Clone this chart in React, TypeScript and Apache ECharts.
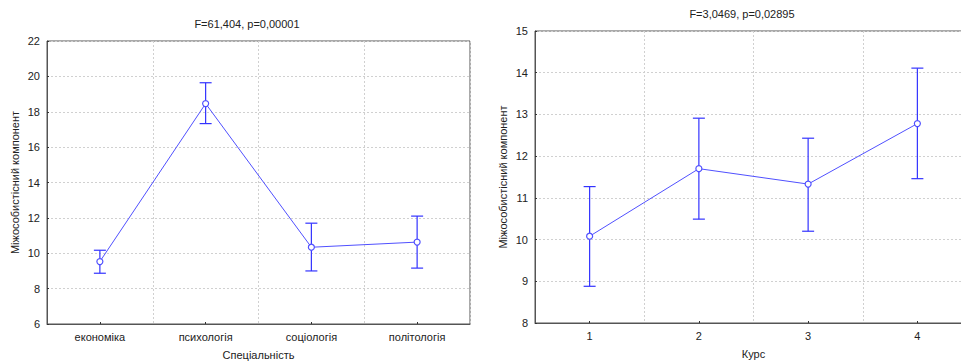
import React, { useEffect, useRef } from "react";
import * as echarts from "echarts";

const specialties = ["економіка", "психологія", "соціологія", "політологія"];
const specMeans = [9.53, 18.46, 10.34, 10.63];
const specLow = [8.87, 17.33, 9.0, 9.16];
const specHigh = [10.17, 19.64, 11.7, 12.1];

const courses = ["1", "2", "3", "4"];
const courseMeans = [10.08, 11.7, 11.33, 12.78];
const courseLow = [8.88, 10.49, 10.2, 11.46];
const courseHigh = [11.27, 12.91, 12.43, 14.11];

const leftTitle = "F=61,404, p=0,00001";
const rightTitle = "F=3,0469, p=0,02895";
const yName = "Міжособистісний компонент";
const leftXName = "Спеціальність";
const rightXName = "Курс";

const FONT = "'Liberation Sans', Arial, sans-serif";
const LINE = "#5050ff";
const ERR = "#3333ff";

function errRender(params: any, api: any) {
  const x = api.value(0);
  const lo = api.coord([x, api.value(1)]);
  const hi = api.coord([x, api.value(2)]);
  const w = 6;
  const style = { stroke: ERR, lineWidth: 1.2 };
  return {
    type: "group",
    children: [
      { type: "line", shape: { x1: lo[0], y1: lo[1], x2: hi[0], y2: hi[1] }, style },
      { type: "line", shape: { x1: lo[0] - w, y1: lo[1], x2: lo[0] + w, y2: lo[1] }, style },
      { type: "line", shape: { x1: hi[0] - w, y1: hi[1], x2: hi[0] + w, y2: hi[1] }, style },
    ],
  };
}

function xAxisFor(idx: number, cats: string[], name: string) {
  return {
    type: "category",
    gridIndex: idx,
    data: cats,
    boundaryGap: true,
    name,
    nameLocation: "middle",
    nameGap: 25,
    nameTextStyle: { fontFamily: FONT, fontSize: 11, color: "#222" },
    axisLine: { show: true, lineStyle: { color: "#555", width: 1 } },
    axisTick: { show: true, inside: true, length: 2, alignWithLabel: true, interval: 0, lineStyle: { color: "#333" } },
    axisLabel: { fontFamily: FONT, fontSize: 11, color: "#222", margin: 7, interval: 0 },
    splitLine: { show: true, interval: 0, lineStyle: { color: "#d0d0d0", type: [2, 2], width: 1 } },
  };
}

function yAxisFor(idx: number, min: number, max: number, interval: number) {
  return {
    type: "value",
    gridIndex: idx,
    min,
    max,
    interval,
    name: yName,
    nameLocation: "middle",
    nameGap: 27,
    nameTextStyle: { fontFamily: FONT, fontSize: 11, color: "#222" },
    axisLine: { show: true, lineStyle: { color: "#555", width: 1 } },
    axisTick: { show: true, inside: true, length: 2, lineStyle: { color: "#333" } },
    axisLabel: { fontFamily: FONT, fontSize: 11, color: "#222", margin: 7 },
    splitLine: { show: true, lineStyle: { color: "#d0d0d0", type: [2, 2], width: 1 } },
  };
}

export default function App() {
  const ref = useRef<HTMLDivElement>(null);
  useEffect(() => {
    if (!ref.current) return;
    const chart = echarts.init(ref.current, null, { renderer: "svg" });
    chart.setOption({
      animation: false,
      backgroundColor: "#fff",
      title: [
        {
          text: leftTitle,
          left: 242,
          top: 13,
          textAlign: "center",
          textStyle: { fontFamily: FONT, fontSize: 11, fontWeight: "normal", color: "#222" },
        },
        {
          text: rightTitle,
          left: 737,
          top: 3,
          textAlign: "center",
          textStyle: { fontFamily: FONT, fontSize: 11, fontWeight: "normal", color: "#222" },
        },
      ],
      grid: [
        { left: 47, top: 41, width: 423, height: 283, show: true, borderColor: "#555", borderWidth: 1, containLabel: false, outerBoundsMode: "none" },
        { left: 535, top: 31, width: 437, height: 292, show: true, borderColor: "#555", borderWidth: 1, containLabel: false, outerBoundsMode: "none" },
      ],
      xAxis: [xAxisFor(0, specialties, leftXName), xAxisFor(1, courses, rightXName)],
      yAxis: [yAxisFor(0, 6, 22, 2), yAxisFor(1, 8, 15, 1)],
      series: [
        {
          type: "line",
          xAxisIndex: 0,
          yAxisIndex: 0,
          data: specMeans,
          symbol: "circle",
          symbolSize: 6,
          lineStyle: { color: LINE, width: 1 },
          itemStyle: { color: "#fff", borderColor: LINE, borderWidth: 1.2 },
          z: 3,
        },
        {
          type: "custom",
          xAxisIndex: 0,
          yAxisIndex: 0,
          data: specialties.map((_, i) => [i, specLow[i], specHigh[i]]),
          renderItem: errRender,
          z: 2,
        },
        {
          type: "line",
          xAxisIndex: 1,
          yAxisIndex: 1,
          data: courseMeans,
          symbol: "circle",
          symbolSize: 6,
          lineStyle: { color: LINE, width: 1 },
          itemStyle: { color: "#fff", borderColor: LINE, borderWidth: 1.2 },
          z: 3,
        },
        {
          type: "custom",
          xAxisIndex: 1,
          yAxisIndex: 1,
          data: courses.map((_, i) => [i, courseLow[i], courseHigh[i]]),
          renderItem: errRender,
          z: 2,
        },
      ],
    });
    return () => chart.dispose();
  }, []);
  return (
    <div
      ref={ref}
      style={{ position: "fixed", left: 0, top: 0, width: 961, height: 361, background: "#fff" }}
    />
  );
}
